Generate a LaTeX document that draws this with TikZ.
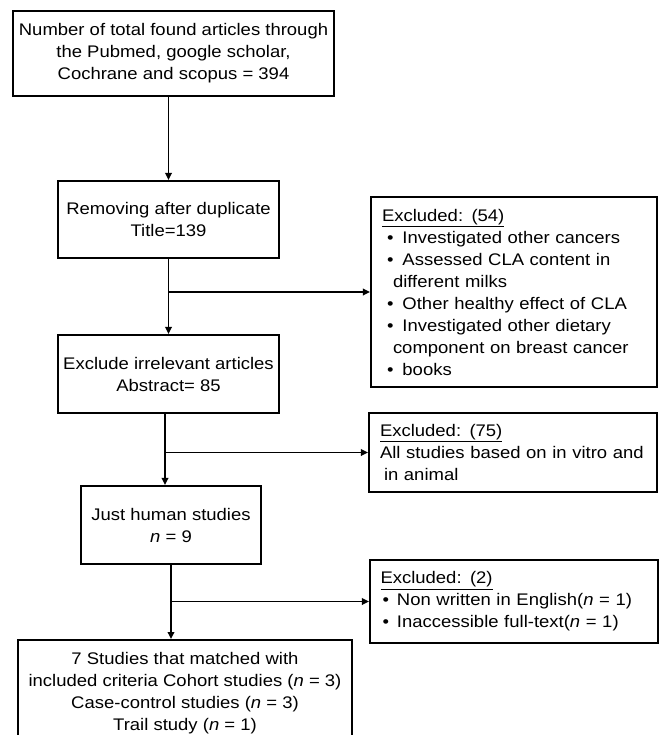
\documentclass[tikz,border=0pt]{standalone}
\usepackage{fontspec}
\setmainfont{Liberation Sans}[FakeStretch=1.1]
\usetikzlibrary{arrows.meta}

\begin{document}
\begin{tikzpicture}[x=1pt, y=-1pt,
  font=\fontsize{16.8}{22}\selectfont,
  box/.style={draw, line width=2.1pt, align=center, inner sep=0pt},
  exbox/.style={draw, line width=2.1pt, align=left, inner sep=0pt},
  arr/.style={line width=1.9pt, -{Triangle[length=7pt, width=6.5pt]}}]

\clip (0,0) rectangle (659,735);

% Define nodes
\path
(173.5,53.5) node[box, minimum width=321pt, minimum height=85pt] (found)
  {Number of total found articles through\\ the Pubmed, google scholar,\\ Cochrane and scopus = 394}
(168.5,219.5) node[box, minimum width=221pt, minimum height=77pt] (dup)
  {Removing after duplicate\\ Title=139}
(168.5,374) node[box, minimum width=221pt, minimum height=78pt] (irrel)
  {Exclude irrelevant articles\\ Abstract= 85}
(171,525) node[box, minimum width=180pt, minimum height=78pt] (human)
  {Just human studies\\ \textit{n} = 9}
(185,639) node[box, anchor=north, minimum width=334pt, minimum height=106pt] (incl)
  {7 Studies that matched with\\ included criteria Cohort studies (\textit{n} = 3)\\
   Case-control studies (\textit{n} = 3)\\ Trail study (\textit{n} = 1)}
(irrel.south) +(-3.5,0) coordinate (stem)
;

% Excluded boxes
\path
(514,292) node[exbox, minimum width=286pt, minimum height=190pt, text width=264pt] (exdup)
  {\underline{Excluded: (54)}\\
   \hspace*{5pt}\textbullet\hspace{9pt}Investigated other cancers\\
   \hspace*{5pt}\textbullet\hspace{9pt}Assessed CLA content in\\
   \hspace*{11pt}different milks\\
   \hspace*{5pt}\textbullet\hspace{9pt}Other healthy effect of CLA\\
   \hspace*{5pt}\textbullet\hspace{9pt}Investigated other dietary\\
   \hspace*{11pt}component on breast cancer\\
   \hspace*{5pt}\textbullet\hspace{9pt}books}
(513,452.5) node[exbox, minimum width=288pt, minimum height=79pt, text width=266pt] (exirrel)
  {\underline{Excluded: (75)}\\
   All studies based on in vitro and\\
   \hspace*{4pt}in animal}
(514,601.5) node[exbox, minimum width=288pt, minimum height=83pt, text width=267pt] (exhuman)
  {\underline{Excluded: (2)}\\
   \hspace*{2pt}\textbullet\hspace{8pt}Non written in English(\textit{n} = 1)\\
   \hspace*{2pt}\textbullet\hspace{8pt}Inaccessible full-text(\textit{n} = 1)}
;

\draw[arr] (dup.north |- found.south) -- (dup.north);
\draw[arr] (dup.south) -- (irrel.north);
\draw[arr] (stem) -- (stem |- human.north);
\draw[arr] (human.south) -- (human.south |- incl.north);

\draw[arr] (exdup.west -| dup.south) -- (exdup.west);
\draw[arr] (exirrel.west -| stem) -- (exirrel.west);
\draw[arr] (exhuman.west -| human.south) -- (exhuman.west);

\end{tikzpicture}
\end{document}
